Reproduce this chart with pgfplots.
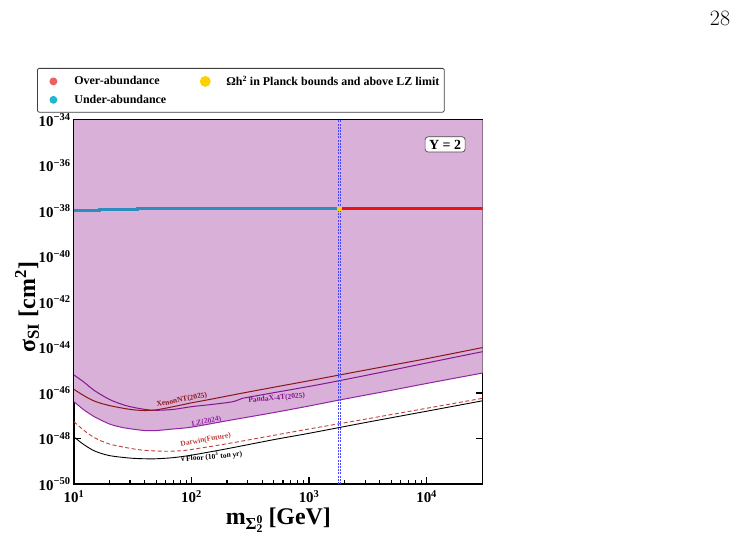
\documentclass[border=0pt]{standalone}
\usepackage{fontspec}
\newfontfamily\tnr{Liberation Serif}
\usepackage{pgfplots}
\pgfplotsset{compat=1.18}
\definecolor{fillc}{RGB}{216,176,216}
\definecolor{xenonc}{RGB}{140,20,25}
\definecolor{pandac}{RGB}{135,20,145}
\definecolor{lzc}{RGB}{145,35,165}
\definecolor{darwc}{RGB}{195,60,60}
\definecolor{bluel}{RGB}{44,140,190}
\definecolor{redl}{RGB}{235,20,20}
\definecolor{goldc}{RGB}{255,208,0}
\definecolor{overc}{RGB}{240,95,95}
\definecolor{underc}{RGB}{30,185,205}
\definecolor{vline}{RGB}{70,70,255}
\begin{document}
\begin{tikzpicture}[x=1bp,y=1bp]
\path[use as bounding box] (0,0) rectangle (737,-543);
\node[font=\fontsize{22}{26}\selectfont] at (720,-18) {28};
\begin{axis}[
  at={(74bp,-484bp)}, anchor=south west,
  scale only axis, width=408.7bp, height=364bp,
  xmode=log, ymode=log,
  xmin=10, xmax=30000, ymin=1e-50, ymax=1e-34,
  xtick={10,100,1000,10000},
  xticklabels={10\textsuperscript{1},10\textsuperscript{2},10\textsuperscript{3},10\textsuperscript{4}},
  ytick={1e-50,1e-48,1e-46,1e-44,1e-42,1e-40,1e-38,1e-36,1e-34},
  yticklabels={10\textsuperscript{−50},10\textsuperscript{−48},10\textsuperscript{−46},10\textsuperscript{−44},10\textsuperscript{−42},10\textsuperscript{−40},10\textsuperscript{−38},10\textsuperscript{−36},10\textsuperscript{−34}},
  yminorticks=false,
  tick align=inside,
  major tick length=7bp, minor tick length=4bp,
  tick style={line width=1.2bp, black},
  axis line style={line width=1.3bp},
  ticklabel style={font=\tnr\bfseries\fontsize{15}{18}\selectfont},
  xticklabel style={yshift=-3bp},
  xlabel={m\textsubscript{Σ\rlap{\textsuperscript{0}}\textsubscript{2}}\hspace{5bp}[GeV]},
  ylabel={σ\textsubscript{SI} [cm\textsuperscript{2}]},
  xlabel style={font=\tnr\bfseries\fontsize{24}{28}\selectfont, at={(axis description cs:0.5,-0.099)}, anchor=center},
  ylabel style={font=\tnr\bfseries\fontsize{24}{28}\selectfont, at={(axis description cs:-0.115,0.486)}, anchor=center},
  legend columns=2,
  legend cell align=left,
  legend style={at={(axis description cs:-0.0905,1.143)}, anchor=north west,
    draw=black!75, rounded corners=2bp, line width=0.8bp,
    font=\tnr\bfseries\fontsize{12}{14}\selectfont,
    inner xsep=3bp, inner ysep=5.5bp, row sep=4bp,
    /tikz/every even column/.append style={column sep=24bp}},
  legend image code/.code={\path[draw=none,fill=none] (0bp,-1bp) rectangle (32bp,1bp);\draw[#1] plot coordinates {(13bp,0bp)};},
]
% allowed region (above LZ 2024)
\addplot[fill=fillc, draw=none, forget plot] coordinates {
(10,4.169e-47) (12,1.905e-47) (15,8.913e-48) (20,4.365e-48) (25,3.162e-48) (30,2.692e-48) (40,2.239e-48) (50,2.239e-48) (70,2.630e-48) (100,3.162e-48) (200,6.026e-48) (500,1.380e-47) (1000,2.692e-47) (1800,4.898e-47) (5000,1.318e-46) (10000,2.630e-46) (30000,7.586e-46) (30000,1e-34) (10,1e-34)} -- cycle;
% neutrino floor
\addplot[black, line width=0.9bp, smooth, forget plot] coordinates {
(10,1.175e-48) (12,5.623e-49) (15,2.818e-49) (20,1.778e-49) (30,1.380e-49) (40,1.288e-49) (50,1.288e-49) (70,1.445e-49) (100,1.862e-49) (200,3.548e-49) (500,8.913e-49) (1000,1.698e-48) (3000,5.012e-48) (10000,1.585e-47) (30000,4.571e-47)};
% Darwin
\addplot[darwc, line width=0.9bp, dash pattern=on 4bp off 2.5bp, smooth, forget plot] coordinates {
(10,5.495e-48) (12,2.399e-48) (15,1.072e-48) (20,5.754e-49) (30,3.715e-49) (40,3.020e-49) (60,2.754e-49) (80,2.884e-49) (100,3.311e-49) (200,5.888e-49) (500,1.380e-48) (1000,2.630e-48) (3000,7.079e-48) (10000,2.138e-47) (30000,5.888e-47)};
% LZ 2024
\addplot[lzc, line width=1bp, smooth, forget plot] coordinates {
(10,4.169e-47) (12,1.905e-47) (15,8.913e-48) (20,4.365e-48) (25,3.162e-48) (30,2.692e-48) (40,2.239e-48) (50,2.239e-48) (70,2.630e-48) (100,3.162e-48) (200,6.026e-48) (500,1.380e-47) (1000,2.692e-47) (1800,4.898e-47) (5000,1.318e-46) (10000,2.630e-46) (30000,7.586e-46)};
% PandaX-4T
\addplot[pandac, line width=1bp, smooth, forget plot] coordinates {
(10,6.166e-46) (12,3.162e-46) (15,1.259e-46) (20,5.248e-47) (25,3.311e-47) (30,2.512e-47) (40,1.905e-47) (50,1.738e-47) (70,1.905e-47) (100,2.512e-47) (150,3.162e-47) (220,4.074e-47) (260,5.370e-47) (300,6.457e-47) (1000,1.950e-46) (1800,3.467e-46) (5000,1.000e-45) (10000,2.089e-45) (30000,6.607e-45)};
% XenonNT
\addplot[xenonc, line width=1bp, smooth, forget plot] coordinates {
(10,1.445e-46) (12,7.943e-47) (15,4.365e-47) (20,2.818e-47) (30,1.905e-47) (40,1.698e-47) (50,1.820e-47) (70,2.512e-47) (100,3.715e-47) (134,4.898e-47) (300,1.096e-46) (1000,3.467e-46) (1800,6.166e-46) (5000,1.660e-45) (10000,3.236e-45) (30000,1.000e-44)};
% vertical lines
\addplot[vline, line width=0.8bp, dash pattern=on 2bp off 1.2bp, forget plot] coordinates {(1770,1e-50) (1770,1e-34)};
\addplot[vline, line width=0.8bp, dash pattern=on 2bp off 1.2bp, forget plot] coordinates {(1850,1e-50) (1850,1e-34)};
% relic lines
\addplot[bluel, line width=3bp, forget plot] coordinates {(10,1.096e-38) (16.6,1.096e-38) (16.6,1.175e-38) (34.4,1.175e-38) (34.4,1.259e-38) (1714,1.259e-38)};
\addplot[redl, line width=3bp, forget plot] coordinates {(1880,1.259e-38) (30000,1.259e-38)};
\addplot[goldc, only marks, mark=square*, mark size=1.6bp, forget plot] coordinates {(1805,1.259e-38)};
% legend entries
\addlegendimage{only marks, mark=*, mark size=3.5bp, color=overc}
\addlegendentry{Over-abundance}
\addlegendimage{only marks, mark=*, mark size=5bp, color=goldc}
\addlegendentry{Ωh\textsuperscript{2} in Planck bounds and above LZ limit}
\addlegendimage{only marks, mark=*, mark size=3.5bp, color=underc}
\addlegendentry{Under-abundance}
% labels
\node[font=\tnr\bfseries\fontsize{7.5}{9}\selectfont, text=xenonc, rotate=11] at (axis cs:82.8,4.9e-47) {XenonNT(2025)};
\node[font=\tnr\bfseries\fontsize{7.5}{9}\selectfont, text=pandac, rotate=5] at (axis cs:530,5.9e-47) {PandaX-4T(2025)};
\node[font=\tnr\bfseries\fontsize{7.5}{9}\selectfont, text=lzc, rotate=10] at (axis cs:134,5.5e-48) {LZ(2024)};
\node[font=\tnr\bfseries\fontsize{7.5}{9}\selectfont, text=darwc, rotate=10] at (axis cs:132,8.5e-49) {Darwin(Future)};
\node[font=\tnr\bfseries\fontsize{7.5}{9}\selectfont, text=black, rotate=5] at (axis cs:148,1.6e-49) {ν Floor (10\textsuperscript{3} ton yr)};
\node[font=\tnr\bfseries\fontsize{14}{16}\selectfont, draw=black!70, fill=white, rounded corners=3bp, line width=0.7bp, inner xsep=4bp, inner ysep=3bp] at (rel axis cs:0.908,0.933) {Y = 2};
\end{axis}
\end{tikzpicture}
\end{document}
